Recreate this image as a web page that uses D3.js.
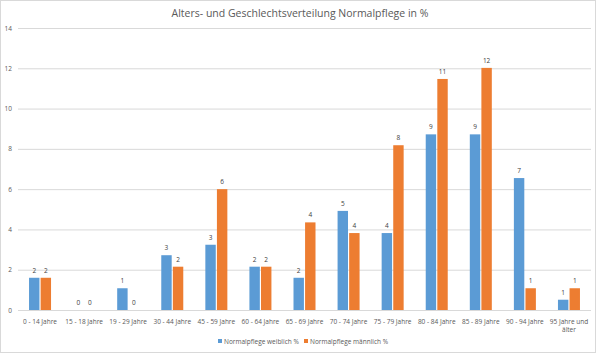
<!DOCTYPE html>
<html>
<head>
<meta charset="utf-8">
<script src="https://cdn.jsdelivr.net/npm/d3@7"></script>
<style>
    body { margin: 0; background: #fff; }
    svg { display: block; font-family: "Open Sans", "Liberation Sans", sans-serif; }
</style>
</head>
<body>
<div id="chart"></div>
<script>
"use strict";

const categories = ["0 - 14 Jahre", "15 - 18 Jahre", "19 - 29 Jahre", "30 - 44 Jahre", "45 - 59 Jahre",
    "60 - 64 Jahre", "65 - 69 Jahre", "70 - 74 Jahre", "75 - 79 Jahre", "80 - 84 Jahre",
    "85 - 89 Jahre", "90 - 94 Jahre", "95 Jahre und älter"];
const weiblich = [1.6, 0, 1.08, 2.72, 3.24, 2.15, 1.6, 4.92, 3.82, 8.72, 8.72, 6.55, 0.51];
const maennlich = [1.6, 0, 0, 2.15, 6.0, 2.15, 4.35, 3.82, 8.18, 11.47, 12.02, 1.08, 1.08];
const seriesNames = ["Normalpflege weiblich %", "Normalpflege männlich %"];
const yTicks = [0, 2, 4, 6, 8, 10, 12, 14];

const COLORS = ["#5B9BD5", "#ED7D31"];
const W = 600, H = 354;
const margin = {top: 28, right: 9, bottom: 44, left: 18};

function buildChart() {
    const svg = d3.select("#chart").append("svg").attr("width", W).attr("height", H);

    svg.append("rect")
        .attr("x", 0.5).attr("y", 0.5)
        .attr("width", 595).attr("height", 352)
        .attr("fill", "#fff").attr("stroke", "#d9d9d9");

    svg.append("text")
        .attr("x", 300).attr("y", 17)
        .attr("text-anchor", "middle")
        .attr("font-size", 10.5)
        .attr("fill", "#595959")
        .text("Alters- und Geschlechtsverteilung Normalpflege in %");

    const x = d3.scaleBand().domain(categories).range([margin.left, W - margin.right]);
    const y = d3.scaleLinear().domain([0, 14]).range([H - margin.bottom, margin.top]);
    const inner = d3.scaleBand().domain([0, 1]).range([x.bandwidth() / 2 - 11, x.bandwidth() / 2 + 11]).paddingInner(0.1);

    // gridlines
    svg.append("g")
        .selectAll("line")
        .data(yTicks)
        .enter()
        .append("line")
        .attr("x1", margin.left).attr("x2", W - margin.right)
        .attr("y1", function (d) { return y(d) + 0.5; })
        .attr("y2", function (d) { return y(d) + 0.5; })
        .attr("stroke", "#d9d9d9");

    // y axis labels
    const yAxis = svg.append("g")
        .attr("transform", "translate(" + (margin.left - 6) + ",0)")
        .call(d3.axisLeft(y).tickValues(yTicks).tickSize(0).tickPadding(0));
    yAxis.select(".domain").remove();
    yAxis.selectAll("text").attr("font-size", 6.5).attr("fill", "#595959")
        .attr("font-family", "Open Sans, Liberation Sans, sans-serif");

    // x axis labels
    const xAxis = svg.append("g")
        .attr("transform", "translate(0," + (H - margin.bottom) + ")")
        .call(d3.axisBottom(x).tickSize(0).tickPadding(9));
    xAxis.select(".domain").remove();
    xAxis.selectAll("text")
        .attr("font-size", 6.5).attr("fill", "#595959")
        .attr("font-family", "Open Sans, Liberation Sans, sans-serif")
        .each(function (d) {
            if (d === "95 Jahre und älter") {
                const t = d3.select(this).text(null);
                t.append("tspan").attr("x", 0).attr("dy", "0.71em").text("95 Jahre und");
                t.append("tspan").attr("x", 0).attr("dy", "1.25em").text("älter");
                t.attr("dy", null);
            }
        });

    const series = [weiblich, maennlich];
    const fmt = d3.format(".0f");
    series.forEach(function (vals, si) {
        const g = svg.append("g");
        g.selectAll("rect")
            .data(vals)
            .enter()
            .append("rect")
            .attr("x", function (d, i) { return x(categories[i]) + inner(si); })
            .attr("width", inner.bandwidth())
            .attr("y", function (d) { return y(d); })
            .attr("height", function (d) { return y(0) - y(d); })
            .attr("fill", COLORS[si]);
        g.selectAll("text")
            .data(vals)
            .enter()
            .append("text")
            .attr("x", function (d, i) { return x(categories[i]) + inner(si) + inner.bandwidth() / 2; })
            .attr("y", function (d) { return y(d) - 5; })
            .attr("text-anchor", "middle")
            .attr("font-size", 6.5)
            .attr("fill", "#404040")
            .text(function (d) { return fmt(d); });
    });

    // legend
    const legendX = [218, 304];
    const legend = svg.append("g");
    seriesNames.forEach(function (name, i) {
        legend.append("rect")
            .attr("x", legendX[i]).attr("y", 339)
            .attr("width", 4).attr("height", 4)
            .attr("fill", COLORS[i]);
        legend.append("text")
            .attr("x", legendX[i] + 6).attr("y", 343.5)
            .attr("font-size", 6.5).attr("fill", "#595959")
            .text(name);
    });
}

buildChart();
</script>
</body>
</html>
